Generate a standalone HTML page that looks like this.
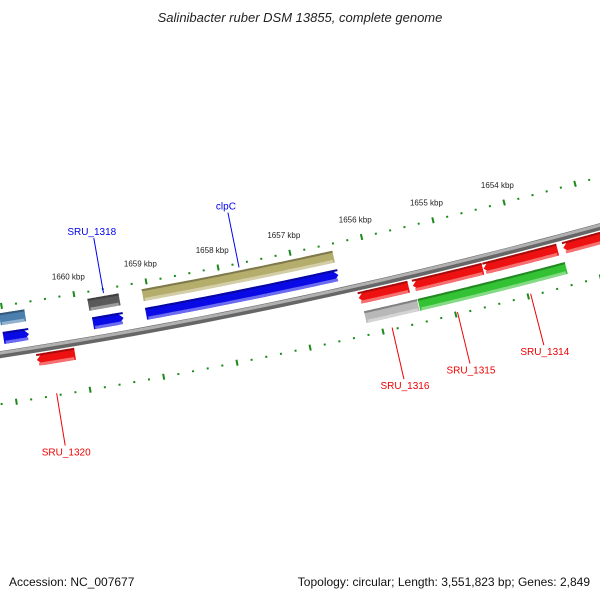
<!DOCTYPE html>
<html><head><meta charset="utf-8"><style>
html,body{margin:0;padding:0;background:#fff;}
svg{display:block;font-family:"Liberation Sans","DejaVu Sans",sans-serif;}
</style></head><body>
<svg id="map" width="600" height="600" viewBox="0 0 600 600" xmlns="http://www.w3.org/2000/svg">
<text x="300" y="22" text-anchor="middle" font-size="13" font-style="italic" fill="#222">Salinibacter ruber DSM 13855, complete genome</text>
<g id="ticks"></g>
<g id="backbone"></g>
<g id="genes"></g>
<g id="labels"></g>
<text x="9" y="586" font-size="12" fill="#111">Accession: NC_007677</text>
<text x="590" y="586" text-anchor="end" font-size="12" fill="#111">Topology: circular; Length: 3,551,823 bp; Genes: 2,849</text>
</svg>
<script>
// data
const geneStart = [1661.05,1659.83,1659.08,1661.04,1659.81,1659.08,1660.64,1656.22,1655.47,1654.49,1653.38,1656.19,1655.45];
const geneEnd   = [1660.70,1659.40,1656.43,1660.69,1659.39,1656.42,1660.12,1655.53,1654.50,1653.46,1652.80,1655.46,1653.41];
const geneTrack = [-35,-35,-35,-16,-16,-16,11,11,11,11,11,31,31];
const geneDir   = [0,0,0,1,1,1,-1,-1,-1,-1,-1,0,0];
const geneColor = ["#4a7fae","#5a5a5a","#b5ad6c","#0a0ae6","#0a0ae6","#0a0ae6","#ee1111","#ee1111","#ee1111","#ee1111","#ee1111","#b8b8b8","#33c233"];
const geneNames = ["steelblue-gene","SRU_1318-gene","clpC-gene","blue-gene-left","SRU_1318-cds","clpC-cds","SRU_1320-gene","SRU_1316-gene","SRU_1315-gene","SRU_1314-gene","red-gene-right","SRU_1316-grey","SRU_1315-green"];
const tickLabels = [1654,1655,1656,1657,1658,1659,1660];
const labelNames = ["SRU_1318","clpC","SRU_1316","SRU_1315","SRU_1314","SRU_1320"];
const labelPos   = [1659.60,1657.72,1655.87,1654.97,1653.96,1660.45];
const labelSide  = [-1,-1,1,1,1,1];
const labelColor = ["#0000ee","#0000ee","#ee0000","#ee0000","#ee0000","#ee0000"];

const NS="http://www.w3.org/2000/svg";
const CX=-814, CY=-4932, R=5349, TH0=Math.atan2(5232,1114), DTH=74/5349;
function P(k,off){const t=TH0+(k-1657)*DTH;const r=R+off;return [CX+r*Math.cos(t),CY+r*Math.sin(t)];}
function mk(tag,attrs,parent){const e=document.createElementNS(NS,tag);for(const a in attrs)e.setAttribute(a,attrs[a]);parent.appendChild(e);return e;}
function arc(k1,k2,off){const pts=[];const n=30;for(let i=0;i<=n;i++){pts.push(P(k1+(k2-k1)*i/n,off));}return pts;}
function ps(pts){return pts.map(p=>p[0].toFixed(1)+","+p[1].toFixed(1)).join(" ");}

// backbone
const bb=document.getElementById('backbone');
const bb1=mk('polyline',{points:ps(arc(1662,1652,0)),fill:'none',stroke:'#666','stroke-width':7},bb);


const bb2=mk('polyline',{points:ps(arc(1662,1652,-1.5)),fill:'none',stroke:'#b0b0b0','stroke-width':3},bb);



// ticks
const tg=document.getElementById('ticks');
for(let i=0;i<=48;i++){
  const k=1652.2+i*0.2;const major=Math.abs(k-Math.round(k))<0.01;
  [-48,49].forEach(off=>{
    const len=major?3:1;
    const a=P(k,off-len),b=P(k,off+len);
    const l=mk('line',{x1:a[0],y1:a[1],x2:b[0],y2:b[1],stroke:'#1a8a1a','stroke-width':2},tg);
    
    
  });
}
tickLabels.forEach(k=>{
  const p=P(k,-63);
  const t=mk('text',{x:p[0]-3,y:p[1],'font-size':8,'text-anchor':'middle',fill:'#222'},tg);
  t.textContent=k+" kbp";
  
  
});

// genes
const gg=document.getElementById('genes');
function shade(c,f){const n=parseInt(c.slice(1),16);let r=n>>16,g=(n>>8)&255,b=n&255;
 const m=x=>Math.max(0,Math.min(255,Math.round(f>0?x+(255-x)*f:x*(1+f))));return "rgb("+m(r)+","+m(g)+","+m(b)+")";}
function geneShape(k1,k2,o1,o2,dir){
  const tip=0.08;
  let a=k1,b=k2;
  if(dir===1)b=k2+tip; if(dir===-1)a=k1-tip;
  let pts=arc(a,b,o1);
  if(dir===1)pts.push(P(k2,(o1+o2)/2));
  pts=pts.concat(arc(b,a,o2));
  if(dir===-1)pts.push(P(k1,(o1+o2)/2));
  return pts;
}
for(let i=0;i<geneStart.length;i++){
  const o=geneTrack[i],h=12,o1=o-h/2,o2=o+h/2,c=geneColor[i];
  const g=mk('g',{},gg);
  
  
  mk('polygon',{points:ps(geneShape(geneStart[i],geneEnd[i],o1,o2,geneDir[i])),fill:c},g);
  mk('polygon',{points:ps(geneShape(geneStart[i],geneEnd[i],o1,o1+2,0)),fill:shade(c,-0.3)},g);
  mk('polygon',{points:ps(geneShape(geneStart[i]-0.02,geneEnd[i]+0.02,o2-3,o2,0)),fill:shade(c,0.4)},g);
}

// labels
const lg=document.getElementById('labels');
for(let i=0;i<labelNames.length;i++){
  const s=labelSide[i],k=labelPos[i];
  const a=P(k,s<0?-44:47),b=P(k,s<0?-100:100);
  const l=mk('line',{x1:a[0],y1:a[1],x2:b[0],y2:b[1],stroke:labelColor[i],'stroke-width':1},lg);
  
  
  const t=mk('text',{x:b[0]+(s<0?-2:1),y:s<0?b[1]-3:b[1]+10,'font-size':10,'text-anchor':'middle',fill:labelColor[i]},lg);
  t.textContent=labelNames[i];
  
  
}
</script>
</body></html>
